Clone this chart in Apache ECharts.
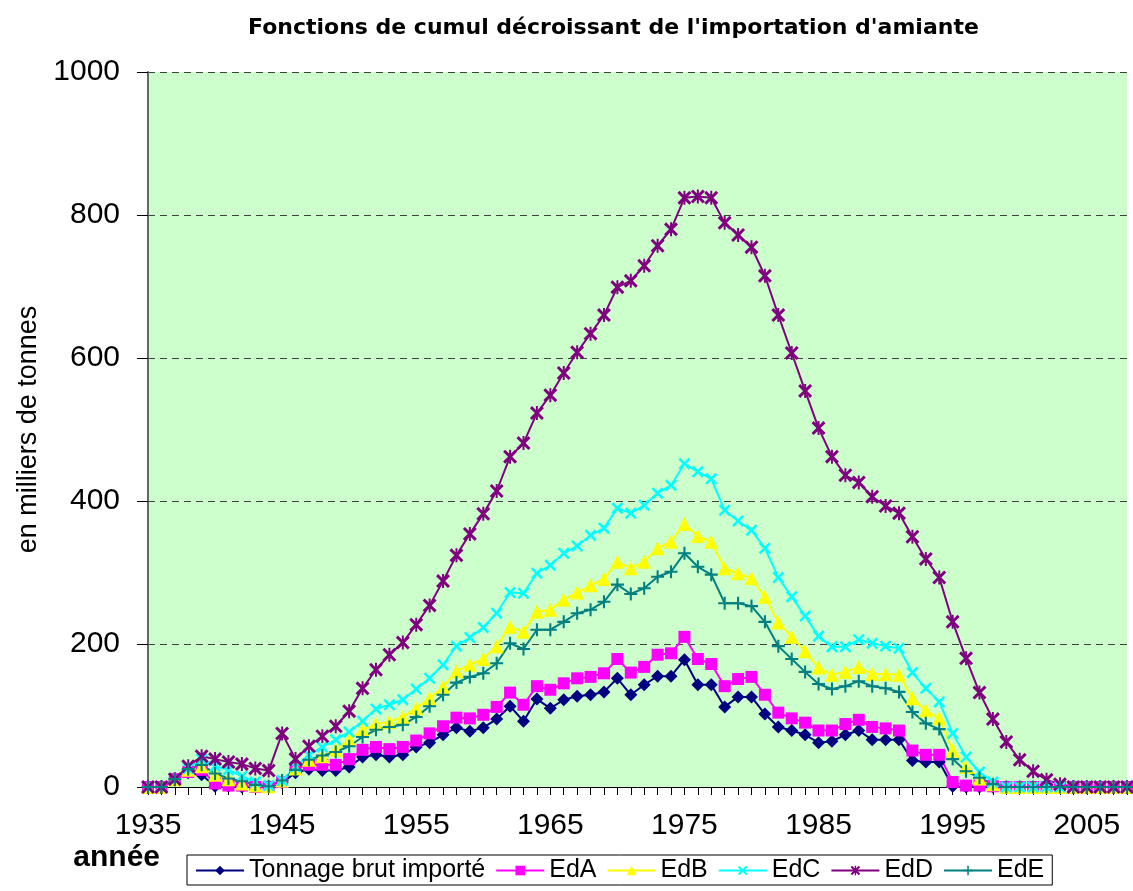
<!DOCTYPE html>
<html>
<head>
<meta charset="utf-8">
<script src="https://cdn.jsdelivr.net/npm/echarts@6/dist/echarts.min.js"></script>
<style>
  html, body { margin: 0; padding: 0; background: #fff; }
  #main { width: 1133px; height: 891px; }
</style>
</head>
<body>
<div id="main"></div>
<script>
// années (catégories)
const years = ['1935','1936','1937','1938','1939','1940','1941','1942','1943','1944',
  '1945','1946','1947','1948','1949','1950','1951','1952','1953','1954',
  '1955','1956','1957','1958','1959','1960','1961','1962','1963','1964',
  '1965','1966','1967','1968','1969','1970','1971','1972','1973','1974',
  '1975','1976','1977','1978','1979','1980','1981','1982','1983','1984',
  '1985','1986','1987','1988','1989','1990','1991','1992','1993','1994',
  '1995','1996','1997','1998','1999','2000','2001','2002','2003','2004',
  '2005','2006','2007','2008'];

// valeurs (milliers de tonnes)
const tonnage = [0,0,11,20,17,1,1,0,0,0,
  6,20,25,23,23,28,42,45,42,45,
  56,62,73,83,78,83,95,113,92,123,
  110,122,127,129,133,152,129,143,155,155,
  178,143,143,112,126,126,102,84,79,73,
  62,64,73,79,66,66,66,37,35,35,
  1,0,0,0,0,0,0,0,0,0,
  0,0,0,0];
const edA = [0,0,11,21,24,5,2,2,0,0,
  7,26,31,31,31,39,52,56,53,56,
  65,75,85,97,96,101,112,132,115,141,
  136,145,152,154,159,179,160,168,185,187,
  210,179,172,141,151,154,129,104,96,90,
  79,79,88,94,84,82,79,51,45,45,
  7,2,2,1,0,0,0,0,0,0,
  0,0,0,0];
const edB = [0,0,11,24,29,17,11,5,2,1,
  9,26,38,43,52,66,80,88,91,98,
  110,124,140,162,171,179,197,224,217,245,
  248,262,272,282,291,315,306,315,334,343,
  368,351,343,306,299,292,266,230,210,190,
  167,157,161,168,158,158,157,124,107,96,
  51,28,12,4,0,0,0,0,0,0,
  0,0,0,0];
const edC = [0,0,11,26,39,29,24,15,7,2,
  9,28,45,56,66,77,92,109,115,122,
  137,152,171,197,209,223,243,272,271,299,
  310,327,337,352,362,390,383,394,411,422,
  452,441,431,387,372,359,334,293,266,239,
  211,196,196,206,201,197,194,160,138,119,
  75,42,21,7,0,0,0,0,0,0,
  0,0,0,0];
const edD = [0,0,11,29,43,39,35,32,26,23,
  75,39,57,71,85,106,138,164,185,202,
  227,254,288,324,354,382,414,462,481,523,
  548,579,608,634,660,699,708,729,757,780,
  824,826,824,789,772,755,715,660,607,554,
  502,462,436,426,406,393,383,350,319,293,
  231,180,132,95,63,38,22,10,4,0,
  0,0,0,0];
const edE = [0,0,11,25,31,19,12,8,3,1,
  9,24,38,44,49,57,70,80,84,87,
  98,113,129,146,154,159,173,201,193,220,
  220,231,243,248,259,283,270,278,294,301,
  327,308,297,257,257,253,231,197,179,161,
  144,137,141,148,141,138,133,105,89,81,
  39,22,13,4,0,0,0,0,0,0,
  0,0,0,0];

const seriesNames = ['Tonnage brut importé', 'EdA', 'EdB', 'EdC', 'EdD', 'EdE'];

// symboles type Excel
const symX = 'path://M0,1.5L1.5,0L5,3.5L8.5,0L10,1.5L6.5,5L10,8.5L8.5,10L5,6.5L1.5,10L0,8.5L3.5,5Z';
const symStar = symX + 'M4.3,0H5.7V10H4.3Z';
const symPlus = 'path://M4.2,0H5.8V4.2H10V5.8H5.8V10H4.2V5.8H0V4.2H4.2Z';

const styles = [
  { color: '#000080', symbol: 'diamond', size: 13 },
  { color: '#FF00FF', symbol: 'rect', size: 12 },
  { color: '#FFFF00', symbol: 'triangle', size: 14 },
  { color: '#00FFFF', symbol: symX, size: 12 },
  { color: '#800080', symbol: symStar, size: 14 },
  { color: '#008080', symbol: symPlus, size: 13 }
];
const allData = [tonnage, edA, edB, edC, edD, edE];

const myChart = echarts.init(document.getElementById('main'));

const option = {
  animation: false,
  backgroundColor: '#fff',
  title: {
    text: "Fonctions de cumul décroissant de l'importation d'amiante",
    left: 243,
    top: 12,
    textStyle: { fontFamily: 'DejaVu Sans', fontWeight: 'bold', fontSize: 22, color: '#000' }
  },
  legend: {
    data: seriesNames,
    left: 187,
    top: 855,
    orient: 'horizontal',
    itemWidth: 48,
    itemHeight: 12,
    itemGap: 10,
    borderColor: '#000',
    borderWidth: 1,
    borderRadius: 0,
    padding: [3, 8, 2, 8],
    textStyle: { fontFamily: 'Liberation Sans', fontSize: 25, color: '#000' }
  },
  grid: {
    left: 148,
    right: 6,
    top: 72,
    bottom: 104,
    show: true,
    backgroundColor: '#CCFFCC',
    borderWidth: 0
  },
  xAxis: {
    type: 'category',
    data: years,
    boundaryGap: false,
    name: 'année',
    nameLocation: 'start',
    nameGap: -12,
    nameMoveOverlap: false,
    nameTextStyle: {
      fontFamily: 'Liberation Sans', fontWeight: 'bold', fontSize: 30, color: '#000',
      align: 'right', verticalAlign: 'top', padding: [56, 0, 0, 0]
    },
    axisLine: { lineStyle: { color: '#000', width: 1 } },
    axisTick: { interval: 0, length: 8, lineStyle: { color: '#000' } },
    axisLabel: {
      interval: 9,
      margin: 24,
      fontFamily: 'Liberation Sans', fontSize: 30, color: '#000'
    },
    splitLine: { show: false }
  },
  yAxis: {
    type: 'value',
    min: 0,
    max: 1000,
    interval: 200,
    name: 'en milliers de tonnes',
    nameLocation: 'middle',
    nameGap: 104,
    nameTextStyle: { fontFamily: 'Liberation Sans', fontSize: 27, color: '#000' },
    axisLine: { show: true, lineStyle: { color: '#666', width: 2 } },
    axisTick: { show: true, length: 11, lineStyle: { color: '#000' } },
    axisLabel: {
      margin: 28,
      fontFamily: 'Liberation Sans', fontSize: 30, color: '#000',
      formatter: function (v) { return String(v); }
    },
    splitLine: { show: true, lineStyle: { color: '#404040', type: [7, 5], width: 1 } }
  },
  series: allData.map((d, i) => ({
    name: seriesNames[i],
    type: 'line',
    data: d,
    symbol: styles[i].symbol,
    symbolSize: styles[i].size,
    showAllSymbol: true,
    lineStyle: { color: styles[i].color, width: 2 },
    itemStyle: { color: styles[i].color },
    emphasis: { disabled: true }
  }))
};

option && myChart.setOption(option);

window.addEventListener('resize', function () {
  myChart.resize();
});
</script>
</body>
</html>
